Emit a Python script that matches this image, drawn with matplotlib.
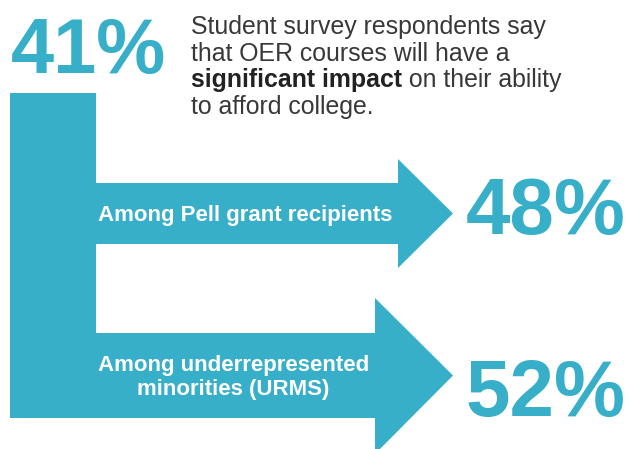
import matplotlib
matplotlib.use('Agg')
import matplotlib.pyplot as plt
from matplotlib.patches import Polygon, Rectangle

# data
headline_value = 41
group_labels = ["Among Pell grant recipients", "Among underrepresented\nminorities (URMS)"]
group_values = [48, 52]
intro_lines = ["Student survey respondents say", "that OER courses will have a"]
bold_part = "significant impact"
after_bold = " on their ability"
last_line = "to afford college."

teal = '#38afc9'
grey = '#383838'
W, H = 629, 449

plt.rcParams['font.family'] = ['Liberation Sans', 'DejaVu Sans']

fig = plt.figure(figsize=(W / 100, H / 100), dpi=100)
ax = fig.add_axes([0, 0, 1, 1])
ax.set_xlim(0, W)
ax.set_ylim(H, 0)
ax.axis('off')

# vertical stem
ax.add_patch(Rectangle((10, 93), 86, 325, color=teal, lw=0))

# arrows: (shaft top, shaft bottom, head base x, head top, head bottom, number baseline)
arrows = [(183, 244, 398, 159, 268, 234), (333, 418, 375, 298, 454, 416)]
tip_x = 453
for (st, sb, hx, ht, hb, nb), lab, val in zip(arrows, group_labels, group_values):
    cy = (st + sb) / 2
    pts = [(96, st), (hx, st), (hx, ht), (tip_x, cy), (hx, hb), (hx, sb), (96, sb)]
    ax.add_patch(Polygon(pts, closed=True, color=teal, lw=0))
    ax.text((96 + hx) / 2 - 2, cy + 2, lab, color='white', fontsize=16,
            fontweight='bold', ha='center', va='center', linespacing=1.2)
    ax.text(466, nb, f"{val}%", color=teal, fontsize=57.5,
            fontweight='bold', ha='left', va='baseline')

# headline number
ax.text(11, 73, f"{headline_value}%", color=teal, fontsize=56,
        fontweight='bold', ha='left', va='baseline')

# paragraph
x0 = 191
base = [34, 61, 87.5, 114]
fs = 17.9
for i, line in enumerate(intro_lines):
    ax.text(x0, base[i], line, color=grey, fontsize=fs, va='baseline')
tb = ax.text(x0, base[2], bold_part, color='#222222', fontsize=fs,
             fontweight='bold', va='baseline')
fig.canvas.draw()
bb = tb.get_window_extent()
ax.text(x0 + bb.width, base[2], after_bold, color=grey, fontsize=fs, va='baseline')
ax.text(x0, base[3], last_line, color=grey, fontsize=fs, va='baseline')

fig.savefig('out.png', dpi=100, facecolor='white')
